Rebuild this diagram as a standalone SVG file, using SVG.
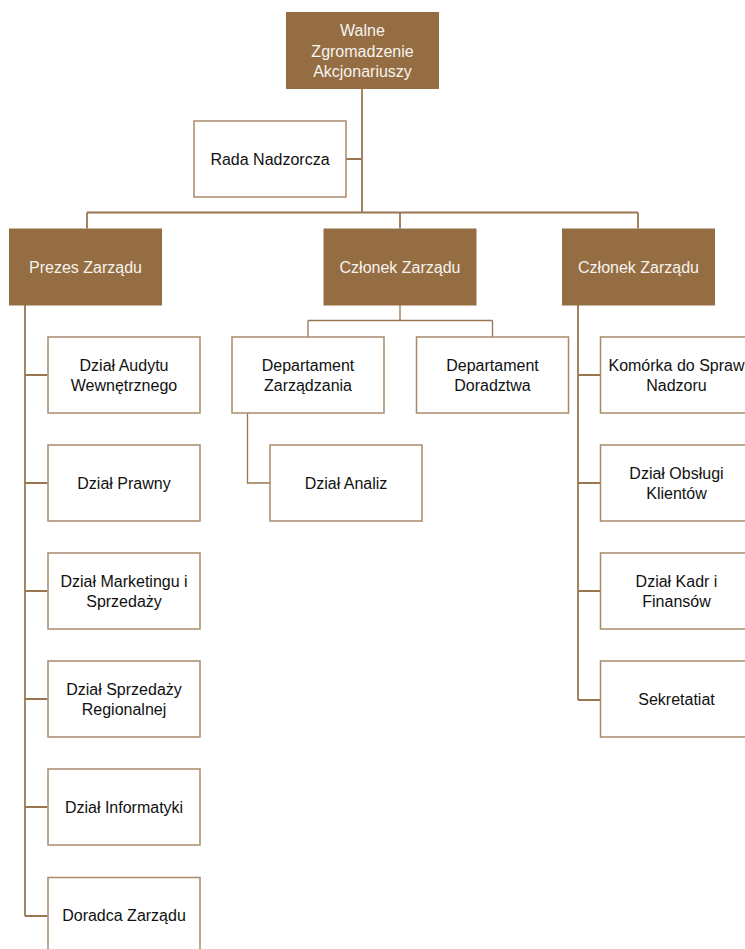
<svg xmlns="http://www.w3.org/2000/svg" width="745" height="949" viewBox="0 0 745 949">
<style>
.dark{fill:#946d43;stroke:none}
.light{fill:#ffffff;stroke:#a88a69;stroke-width:1.5}
.tw{fill:#f7f3ee;font-family:"Liberation Sans",Arial,sans-serif;font-size:16px;text-anchor:middle;dominant-baseline:central}
.tb{fill:#111111;font-family:"Liberation Sans",Arial,sans-serif;font-size:16px;text-anchor:middle;dominant-baseline:central}
.c{fill:none;stroke:#9a7650;stroke-width:1.8}
.c2{fill:none;stroke:#9a7650;stroke-width:1.3}
</style>
<rect width="745" height="949" fill="#ffffff"/>
<g id="connectors">
<path class="c" d="M362 89V212.5M346 159H362M87 212.5H638M87 212.5V228.5M400 212.5V228.5M638 212.5V228.5"/>
<path class="c" d="M25 305V916M25 375H47.5M25 483H47.5M25 591H47.5M25 699H47.5M25 807H47.5M25 916H47.5"/>
<path class="c2" d="M400 305V320.5M308 320.5H492.5M308 320.5V337M492.5 320.5V337M247.5 413V483H270"/>
<path class="c" d="M578 305V700M578 375H600M578 483H600M578 591H600M578 700H600"/>
</g>
<g id="walne"><rect class="dark" x="286" y="12" width="153" height="77"/>
<text class="tw" x="362.5" y="30">Walne</text><text class="tw" x="362.5" y="51">Zgromadzenie</text><text class="tw" x="362.5" y="71.5">Akcjonariuszy</text></g>
<g id="rada"><rect class="light" x="194" y="121" width="152" height="76"/><text class="tb" x="270" y="159">Rada Nadzorcza</text></g>
<g id="prezes"><rect class="dark" x="9" y="228.5" width="153" height="77"/><text class="tw" x="85.5" y="267">Prezes Zarządu</text></g>
<g id="czlonek1"><rect class="dark" x="323.5" y="228.5" width="153" height="77"/><text class="tw" x="400" y="267">Członek Zarządu</text></g>
<g id="czlonek2"><rect class="dark" x="562" y="228.5" width="153" height="77"/><text class="tw" x="638.5" y="267">Członek Zarządu</text></g>
<g id="audyt"><rect class="light" x="48" y="337" width="152" height="76"/><text class="tb" x="124" y="365">Dział Audytu</text><text class="tb" x="124" y="385.5">Wewnętrznego</text></g>
<g id="prawny"><rect class="light" x="48" y="445" width="152" height="76"/><text class="tb" x="124" y="483">Dział Prawny</text></g>
<g id="marketing"><rect class="light" x="48" y="553" width="152" height="76"/><text class="tb" x="124" y="581">Dział Marketingu i</text><text class="tb" x="124" y="601.5">Sprzedaży</text></g>
<g id="sprzedaz"><rect class="light" x="48" y="661" width="152" height="76"/><text class="tb" x="124" y="689">Dział Sprzedaży</text><text class="tb" x="124" y="709.5">Regionalnej</text></g>
<g id="informatyki"><rect class="light" x="48" y="769" width="152" height="76"/><text class="tb" x="124" y="807">Dział Informatyki</text></g>
<g id="doradca"><rect class="light" x="48" y="877.5" width="152" height="76"/><text class="tb" x="124" y="915.5">Doradca Zarządu</text></g>
<g id="dep-zarz"><rect class="light" x="232" y="337" width="152" height="76"/><text class="tb" x="308" y="365">Departament</text><text class="tb" x="308" y="385.5">Zarządzania</text></g>
<g id="dep-dor"><rect class="light" x="416.5" y="337" width="152" height="76"/><text class="tb" x="492.5" y="365">Departament</text><text class="tb" x="492.5" y="385.5">Doradztwa</text></g>
<g id="analiz"><rect class="light" x="270" y="445" width="152" height="76"/><text class="tb" x="346" y="483">Dział Analiz</text></g>
<g id="komorka"><rect class="light" x="600.5" y="337" width="152" height="76"/><text class="tb" x="676.5" y="365">Komórka do Spraw</text><text class="tb" x="676.5" y="385.5">Nadzoru</text></g>
<g id="obslugi"><rect class="light" x="600.5" y="445" width="152" height="76"/><text class="tb" x="676.5" y="473">Dział Obsługi</text><text class="tb" x="676.5" y="493.5">Klientów</text></g>
<g id="kadr"><rect class="light" x="600.5" y="553" width="152" height="76"/><text class="tb" x="676.5" y="581">Dział Kadr i</text><text class="tb" x="676.5" y="601.5">Finansów</text></g>
<g id="sekretariat"><rect class="light" x="600.5" y="661" width="152" height="76"/><text class="tb" x="676.5" y="699">Sekretatiat</text></g>
</svg>
